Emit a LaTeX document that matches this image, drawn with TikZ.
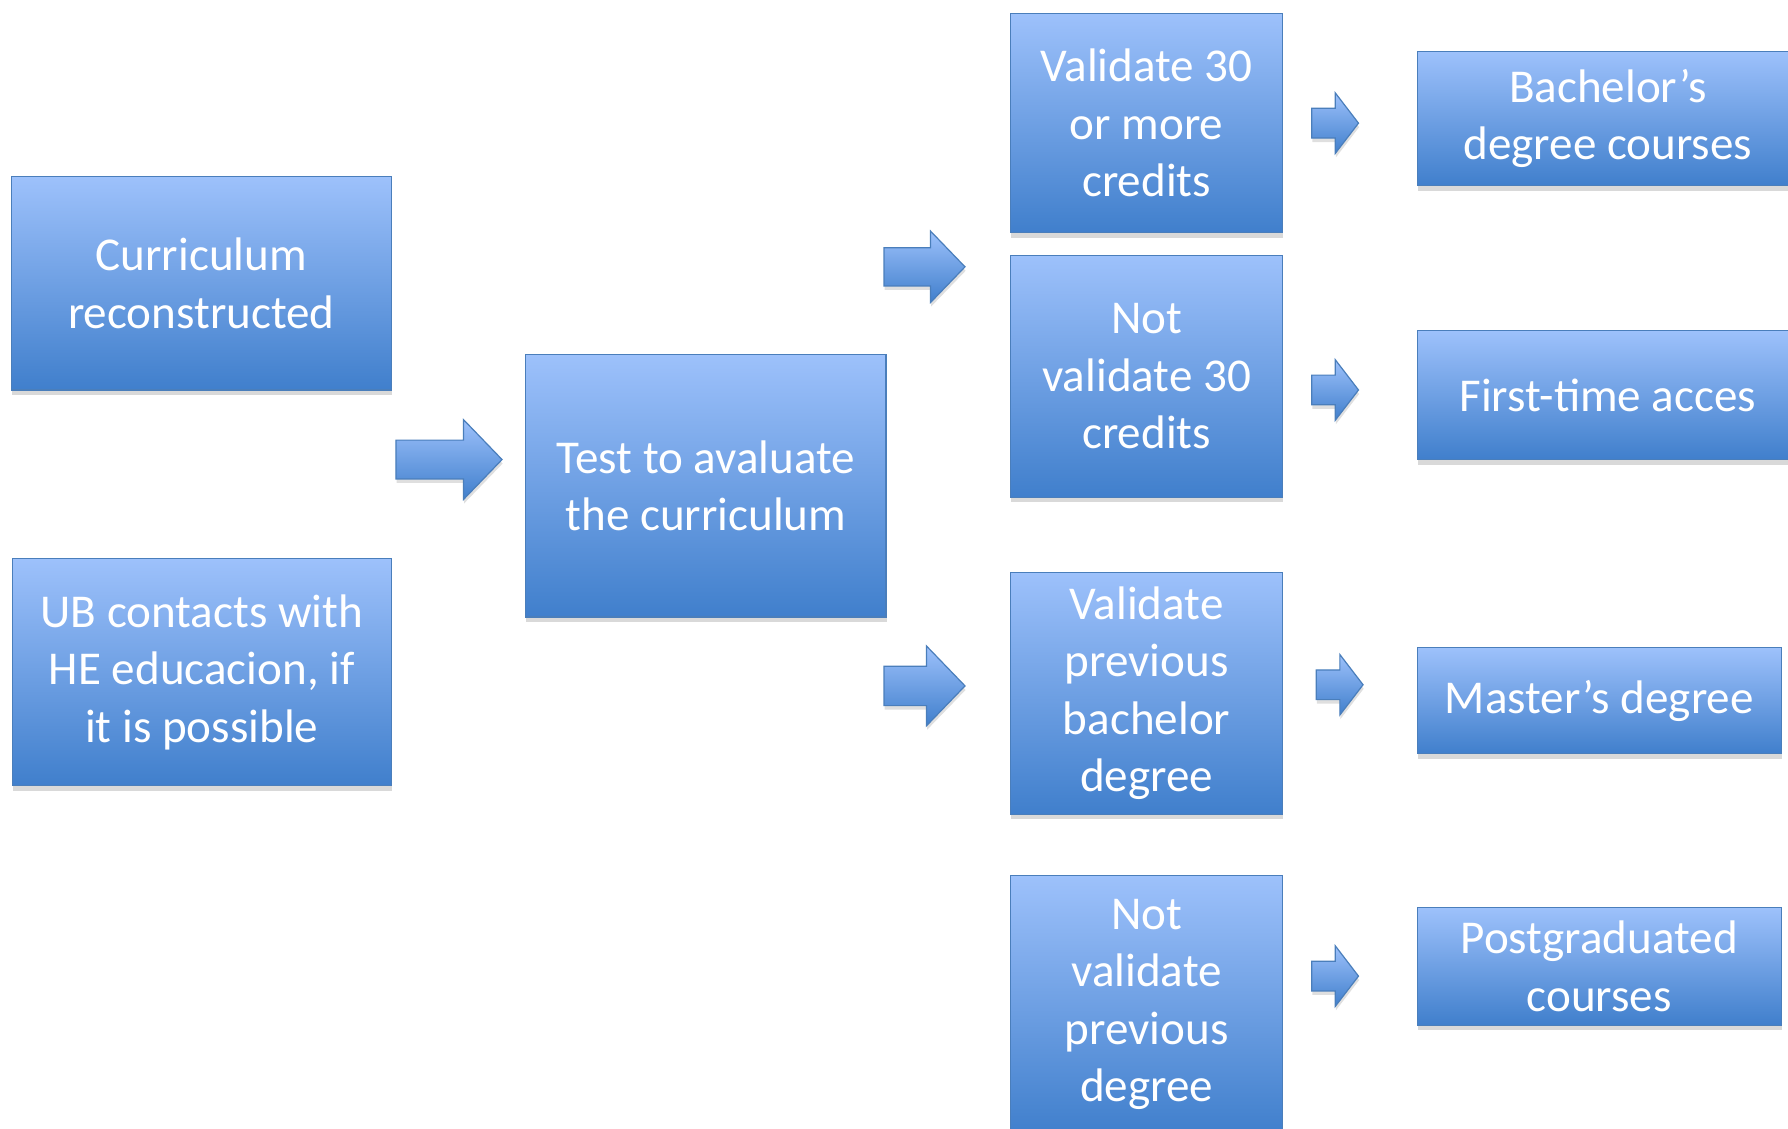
\documentclass[tikz,border=0pt]{standalone}
\usepackage{fontspec}
\setmainfont{Carlito}
\usetikzlibrary{shapes.arrows, shadows}
\definecolor{boxTop}{RGB}{157,193,251}
\definecolor{boxBottom}{RGB}{64,127,204}
\definecolor{boxLine}{RGB}{74,126,187}
\tikzstyle{blueBox} = [rectangle, draw=boxLine, line width=0.6pt, top color=boxTop, bottom color=boxBottom, text=white, align=center, inner sep=0pt, font=\fontsize{23.5}{28.7}\selectfont, drop shadow={shadow xshift=0.3pt, shadow yshift=-2.5pt, opacity=0.3}]
\tikzstyle{blockArrow} = [single arrow, draw=boxLine, line width=0.6pt, top color=boxTop, bottom color=boxBottom, inner xsep=0pt, single arrow head indent=0pt, anchor=tip, drop shadow={shadow xshift=0.3pt, shadow yshift=-2pt, opacity=0.25}]
\tikzstyle{bigArrow} = [blockArrow, minimum height=1.86cm, minimum width=1.38cm, inner ysep=0.33cm, single arrow head extend=0.36cm, single arrow tip angle=92]
\tikzstyle{smallArrow} = [blockArrow, minimum height=0.82cm, minimum width=1.04cm, inner ysep=0.25cm, single arrow head extend=0.27cm, single arrow tip angle=105]

\begin{document}
\begin{tikzpicture}
		\useasboundingbox (0,0) rectangle (31.36,-19.8);
		% first column
		\node (curr) [blueBox, minimum width=6.66cm, minimum height=3.74cm] at (3.53,-4.97) {Curriculum\\reconstructed};
		\node (contact) [blueBox, minimum width=6.64cm, minimum height=3.98cm] at (3.54,-11.79) {UB contacts with\\HE educacion, if\\it is possible};
		\node (test) [blueBox, minimum width=6.32cm, minimum height=4.6cm] at (12.38,-8.52) {Test to avaluate\\the curriculum};
		% results of the test
		\node (valid) [blueBox, minimum width=4.78cm, minimum height=3.84cm] at (20.11,-2.16) {Validate 30\\or more\\credits};
		\node (notvalid) [blueBox, minimum width=4.78cm, minimum height=4.24cm] at (20.11,-6.6) {Not\\validate 30\\credits};
		\node (validbach) [blueBox, minimum width=4.78cm, minimum height=4.24cm] at (20.11,-12.16) {Validate\\previous\\bachelor\\degree};
		\node (notvaliddeg) [blueBox, minimum width=4.78cm, minimum height=4.52cm] at (20.11,-17.62) {Not\\validate\\previous\\degree};
		% access
		\node (bachelor) [blueBox, minimum width=6.68cm, minimum height=2.36cm] at (28.2,-2.08) {Bachelor’s\\degree courses};
		\node (firsttime) [blueBox, minimum width=6.68cm, minimum height=2.26cm] at (28.2,-6.93) {First-time acces};
		\node (master) [blueBox, minimum width=6.38cm, minimum height=1.86cm] at (28.05,-12.29) {Master’s degree};
		\node (postgrad) [blueBox, minimum width=6.38cm, minimum height=2.06cm] at (28.05,-16.95) {Postgraduated\\courses};
		% block arrows
		\node (arrTest) [bigArrow] at (8.82,-8.06) {};
		\node (arrUp) [bigArrow, minimum height=1.42cm, minimum width=1.23cm, inner ysep=0.325cm, single arrow head extend=0.29cm] at (16.94,-4.68) {};
		\node (arrDown) [bigArrow, minimum height=1.42cm, inner ysep=0.335cm, single arrow head extend=0.355cm] at (16.94,-12.03) {};
		\node (arrBach) [smallArrow] at (23.84,-2.16) {};
		\node (arrFirst) [smallArrow] at (23.84,-6.84) {};
		\node (arrMaster) [smallArrow] at (23.92,-12.01) {};
		\node (arrPost) [smallArrow] at (23.84,-17.12) {};
	\end{tikzpicture}
\end{document}
